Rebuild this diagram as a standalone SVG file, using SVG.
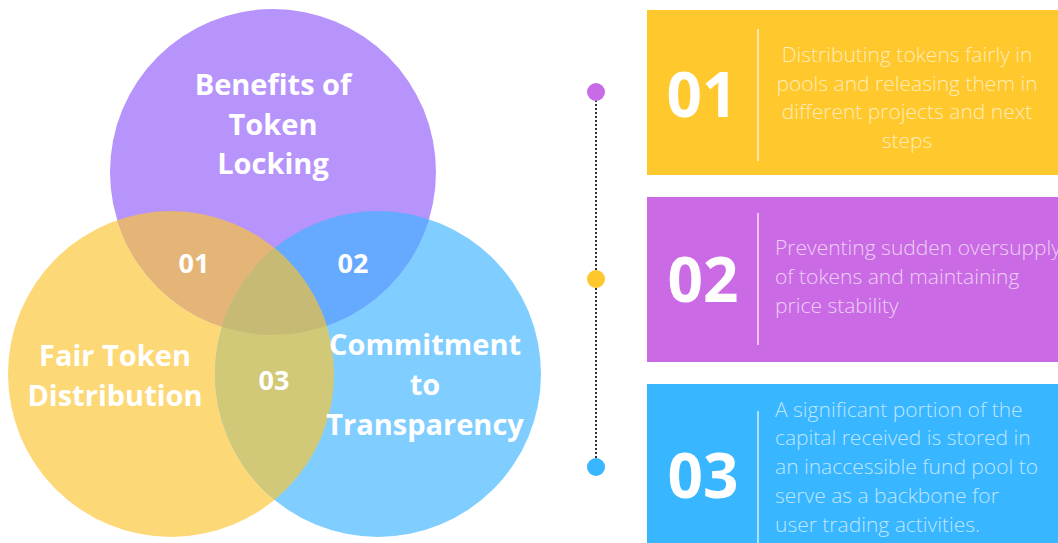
<svg xmlns="http://www.w3.org/2000/svg" width="1058" height="543" viewBox="0 0 1058 543">
<style>
.vb{font-family:"Open Sans","Liberation Sans",sans-serif;font-weight:700;fill:#fff;text-anchor:middle}
.num{font-family:"Open Sans","Liberation Sans",sans-serif;font-weight:700;fill:#fff;text-anchor:middle;font-size:27px}
.big{font-family:"Open Sans","Liberation Sans",sans-serif;font-weight:700;fill:#fff;font-size:62px;text-anchor:middle}
.desc{font-family:"Open Sans","Liberation Sans",sans-serif;font-weight:300;fill:#fff;fill-opacity:0.68;font-size:21px}
.sep{stroke:#fff;stroke-opacity:0.6;stroke-width:2}
</style>
<defs>
<clipPath id="cp"><circle cx="273" cy="172" r="163"/></clipPath>
<clipPath id="cb"><circle cx="378" cy="374" r="163"/></clipPath>
</defs>
<rect width="1058" height="543" fill="#fff"/>
<g id="venn">
<circle cx="171" cy="374" r="163" fill="#FDD876"/>
<circle cx="378" cy="374" r="163" fill="#80CEFF"/>
<circle cx="273" cy="172" r="163" fill="#B794FB"/>
<circle cx="171" cy="374" r="163" fill="#E4B577" clip-path="url(#cp)"/>
<circle cx="378" cy="374" r="163" fill="#66AAFF" clip-path="url(#cp)"/>
<circle cx="171" cy="374" r="163" fill="#D1C978" clip-path="url(#cb)"/>
<g clip-path="url(#cp)"><circle cx="171" cy="374" r="163" fill="#C7BA75" clip-path="url(#cb)"/></g>
</g>
<g id="node-benefits"><text class="vb" font-size="29"><tspan x="273" y="95">Benefits of</tspan><tspan x="273" y="135">Token</tspan><tspan x="273" y="174">Locking</tspan></text></g>
<g id="node-fair"><text class="vb" font-size="29"><tspan x="115" y="366">Fair Token</tspan><tspan x="115" y="406">Distribution</tspan></text></g>
<g id="node-commit"><text class="vb" font-size="29"><tspan x="425" y="355">Commitment</tspan><tspan x="425" y="395">to</tspan><tspan x="425" y="435">Transparency</tspan></text></g>
<g id="label-01"><text class="num" x="194" y="273">01</text></g>
<g id="label-02"><text class="num" x="353" y="273">02</text></g>
<g id="label-03"><text class="num" x="274" y="390">03</text></g>
<g id="connectors">
<line x1="596" y1="100" x2="596" y2="460" stroke="#333" stroke-width="2" stroke-dasharray="2 2"/>
</g>
<g id="dot-1"><circle cx="596" cy="92" r="9" fill="#C86BE6"/></g>
<g id="dot-2"><circle cx="596" cy="279" r="9" fill="#FFC72C"/></g>
<g id="dot-3"><circle cx="596" cy="467" r="9" fill="#38B6FF"/></g>
<g id="card-1">
<rect x="647" y="10" width="411" height="165" fill="#FFC82C"/>
<line class="sep" x1="758" y1="29" x2="758" y2="161"/>
<text class="big" x="702" y="117">01</text>
<text class="desc" text-anchor="middle"><tspan x="907" y="62">Distributing tokens fairly in</tspan><tspan x="907" y="91">pools and releasing them in</tspan><tspan x="907" y="119">different projects and next</tspan><tspan x="907" y="148">steps</tspan></text>
</g>
<g id="card-2">
<rect x="647" y="197" width="411" height="165" fill="#CA6BE5"/>
<line class="sep" x1="758" y1="213" x2="758" y2="345"/>
<text class="big" x="703" y="302">02</text>
<text class="desc"><tspan x="775" y="255">Preventing sudden oversupply</tspan><tspan x="775" y="284">of tokens and maintaining</tspan><tspan x="775" y="313">price stability</tspan></text>
</g>
<g id="card-3">
<rect x="647" y="384" width="411" height="165" fill="#38B6FF"/>
<line class="sep" x1="758" y1="411" x2="758" y2="543"/>
<text class="big" x="703" y="498">03</text>
<text class="desc"><tspan x="775" y="417">A significant portion of the</tspan><tspan x="775" y="445">capital received is stored in</tspan><tspan x="775" y="474">an inaccessible fund pool to</tspan><tspan x="775" y="503">serve as a backbone for</tspan><tspan x="775" y="532">user trading activities.</tspan></text>
</g>
</svg>
